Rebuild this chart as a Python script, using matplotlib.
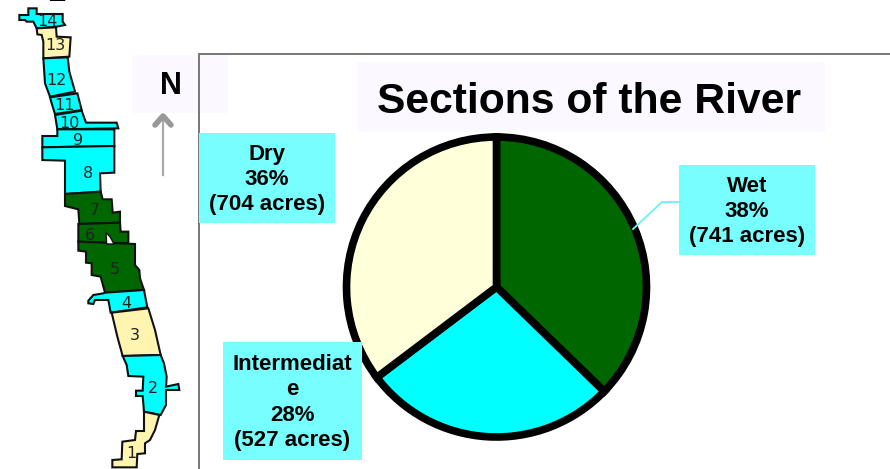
import matplotlib
matplotlib.use('Agg')
import matplotlib.pyplot as plt
from matplotlib.patches import Polygon, Rectangle

plt.rcParams['font.family'] = ['Liberation Sans', 'DejaVu Sans']

W, H = 890, 469

# pie data
categories = ['Wet', 'Intermediat\ne', 'Dry']
percents = [38, 28, 36]
acres = [741, 527, 704]
pie_colors = ['#006600', '#00FFFF', '#FFFFD9']

# map colours
CYAN = '#00FFFF'
CREAM = '#FFF5B0'
GREEN = '#006600'

# river sections, outlines traced at 3x zoom: number, colour, label pos, outline
sections = [
    ('14', CYAN, (142, 64), [(58, 45), (85, 45), (85, 25), (110, 25), (110, 42), (188, 42), (188, 65), (195, 75),
                             (170, 80), (110, 85), (100, 65), (80, 65), (75, 60), (58, 60)]),
    ('13', CREAM, (165, 135), [(110, 85), (168, 82), (170, 110), (212, 112), (208, 170), (130, 175), (130, 125),
                               (125, 105), (112, 103)]),
    ('12', CYAN, (168, 242), [(130, 175), (203, 172), (208, 215), (225, 275), (150, 290), (135, 250)]),
    ('11', CYAN, (193, 318), [(150, 292), (232, 280), (245, 330), (165, 342), (155, 310)]),
    ('10', CYAN, (208, 371), [(165, 345), (245, 332), (258, 368), (350, 368), (355, 385), (172, 388)]),
    ('9', CYAN, (235, 422), [(172, 388), (343, 388), (343, 438), (127, 442), (127, 408), (172, 408)]),
    ('8', CYAN, (265, 520), [(127, 442), (343, 438), (343, 518), (300, 520), (302, 575), (195, 582), (195, 482),
                             (127, 480)]),
    ('7', GREEN, (283, 632), [(195, 582), (302, 575), (308, 598), (335, 598), (338, 638), (360, 635), (360, 668),
                              (238, 672), (235, 628), (195, 618)]),
    ('6', GREEN, (271, 708), [(235, 672), (360, 668), (362, 695), (385, 695), (385, 730), (235, 725)]),
    ('5', GREEN, (343, 810), [(235, 725), (405, 732), (405, 795), (418, 810), (420, 835), (432, 870), (315, 878),
                              (302, 830), (275, 825), (275, 790), (258, 788), (258, 755), (235, 752)]),
    ('4', CYAN, (380, 912), [(315, 878), (432, 870), (442, 922), (332, 938), (325, 900), (285, 900), (280, 912),
                             (265, 910), (265, 902), (280, 885), (310, 880)]),
    ('3', CREAM, (403, 1005), [(335, 938), (445, 925), (465, 990), (482, 1065), (368, 1068), (352, 1010)]),
    ('2', CYAN, (458, 1165), [(368, 1068), (482, 1065), (492, 1090), (500, 1130), (498, 1160), (535, 1152),
                              (538, 1170), (498, 1170), (498, 1215), (482, 1245), (432, 1235), (428, 1188),
                              (408, 1188), (408, 1172), (428, 1172), (430, 1130), (385, 1128), (380, 1095)]),
    ('1', CREAM, (395, 1360), [(432, 1235), (478, 1245), (465, 1290), (450, 1320), (435, 1330), (435, 1360),
                               (412, 1362), (410, 1402), (337, 1402), (337, 1380), (365, 1378), (367, 1325),
                               (405, 1320), (408, 1293), (432, 1293)]),
]
hole = [(318, 698), (330, 710), (342, 732), (320, 732)]

fig = plt.figure(figsize=(W / 100, H / 100), dpi=100)
ax = fig.add_axes([0, 0, 1, 1])
ax.set_xlim(0, W)
ax.set_ylim(H, 0)
ax.axis('off')

# map on the left
for num, col, pos, outline in sections:
    pts = [(x / 3, y / 3) for x, y in outline]
    ax.add_patch(Polygon(pts, closed=True, fc=col, ec='#111111', lw=1.5, joinstyle='miter'))
ax.add_patch(Polygon([(x / 3, y / 3) for x, y in hole], closed=True, fc='white', ec='#111111', lw=1))
for num, col, pos, outline in sections:
    ax.text(pos[0] / 3, pos[1] / 3, num, fontsize=11.5, color='#222222', ha='center', va='center',
            family='DejaVu Sans', zorder=5)
# only the foot of this letter is inside the picture, as in the reference
ax.text(57, -6, 'Z', fontsize=20, fontweight='bold', ha='center', va='center', clip_on=True)

# north arrow
ax.add_patch(Rectangle((132, 55), 96, 58, fc='#FBF9FF', ec='none'))
ax.text(171, 86, 'N', fontsize=22, fontweight='bold', ha='center', va='center')
ax.plot([163, 163], [175, 116], color='#AAAAAA', lw=1.6)
ax.plot([155, 163, 171], [125, 116, 125], color='#999999', lw=4, solid_capstyle='round')

# chart frame
ax.plot([199, 199, W], [H, 54, 54], color='#777777', lw=1.4, solid_joinstyle='miter')

# title
ax.add_patch(Rectangle((357, 62), 468, 70, fc='#FBF9FF', ec='none'))
ax.text(589, 102, 'Sections of the River', fontsize=30.7, fontweight='bold', ha='center', va='center')

# pie
cx, cy, R = 496.5, 287, 150
pie_ax = fig.add_axes([(cx - R) / W, 1 - (cy + R) / H, 2 * R / W, 2 * R / H])
pie_ax.pie(percents, colors=pie_colors, startangle=90, counterclock=False, radius=1,
           wedgeprops={'edgecolor': 'black', 'linewidth': 5.5, 'clip_on': False, 'joinstyle': 'miter'})
pie_ax.set_xlim(-1, 1)
pie_ax.set_ylim(-1, 1)
pie_ax.set_zorder(1)

# labels on an overlay
top = fig.add_axes([0, 0, 1, 1], zorder=2)
top.set_xlim(0, W)
top.set_ylim(H, 0)
top.axis('off')
box_spots = [(679, 165, 136, 90), (223, 342, 139, 118), (199, 133, 136, 90)]
for cat, pct, ac, (x, y, w, h) in zip(categories, percents, acres, box_spots):
    top.add_patch(Rectangle((x, y), w, h, fc='#77FFFF', ec='none'))
    top.text(x + w / 2, y + h / 2 + 1.5, f'{cat}\n{pct}%\n({ac} acres)', fontsize=16, fontweight='bold',
             ha='center', va='center', linespacing=1.28)
top.plot([680, 662, 633], [202, 202, 229], color='#66F5F5', lw=1.3)

fig.savefig('out.png', dpi=100)
